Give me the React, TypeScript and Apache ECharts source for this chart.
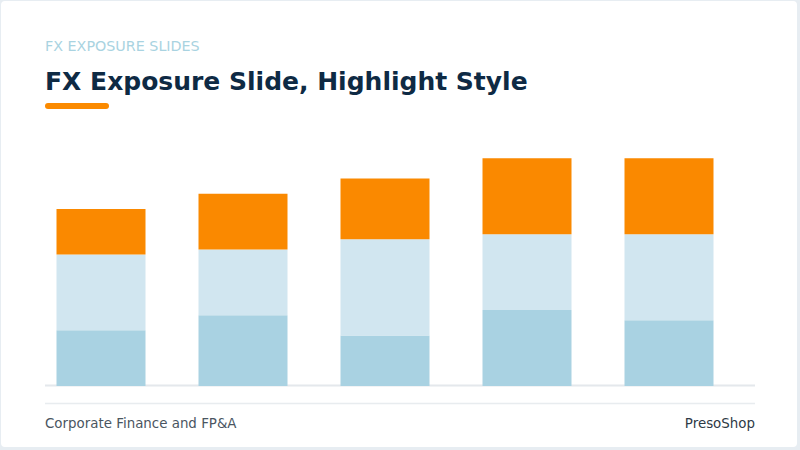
import { useEffect, useRef } from 'react';
import * as echarts from 'echarts';

const categories = ['A', 'B', 'C', 'D', 'E'];
const baseExposure = [22, 28, 20, 30, 26];
const midExposure = [30, 26, 38, 30, 34];
const highlightExposure = [18, 22, 24, 30, 30];

const kicker = 'FX EXPOSURE SLIDES';
const title = 'FX Exposure Slide, Highlight Style';
const footerLeft = 'Corporate Finance and FP&A';
const footerRight = 'PresoShop';

const FONT = '"DejaVu Sans", Inter, sans-serif';

export default function App() {
  const chartRef = useRef<HTMLDivElement>(null);

  useEffect(() => {
    if (!chartRef.current) return;
    const chart = echarts.init(chartRef.current, undefined, { renderer: 'svg' });

    const barSeries = (name: string, data: number[], color: string) => ({
      name,
      type: 'bar',
      stack: 'fx',
      data,
      barWidth: 89,
      itemStyle: { color },
      emphasis: { disabled: true },
    });

    chart.setOption({
      animation: false,
      backgroundColor: '#e7edf2',
      // plot area sits a little left of the baseline rule
      grid: { left: 30, right: 60, top: 133, bottom: 64 },
      xAxis: {
        type: 'category',
        data: categories,
        axisLine: { show: false },
        axisTick: { show: false },
        axisLabel: { show: false },
      },
      yAxis: {
        type: 'value',
        min: 0,
        max: 100,
        show: false,
        splitLine: { show: false },
      },
      graphic: [
        {
          type: 'rect',
          z: -10,
          shape: { x: 1, y: 1, width: 796, height: 446, r: 4 },
          style: { fill: '#ffffff' },
        },
        {
          type: 'line',
          z: -5,
          shape: { x1: 45, y1: 385.5, x2: 755, y2: 385.5 },
          style: { stroke: '#e4e8ec', lineWidth: 2 },
        },
        {
          type: 'text',
          x: 45,
          y: 39,
          style: { text: kicker, fill: '#a9d3e1', font: `400 14.3px ${FONT}` },
        },
        {
          type: 'text',
          x: 45,
          y: 69,
          style: { text: title, fill: '#0e2a44', font: `700 25px ${FONT}` },
        },
        {
          type: 'rect',
          shape: { x: 45, y: 103, width: 64, height: 6, r: 3 },
          style: { fill: '#fb8a00' },
        },
        {
          type: 'line',
          shape: { x1: 45, y1: 403.5, x2: 755, y2: 403.5 },
          style: { stroke: '#e8ecef', lineWidth: 1.5 },
        },
        {
          type: 'text',
          x: 45,
          y: 417,
          style: { text: footerLeft, fill: '#4a5561', font: `400 13.4px ${FONT}` },
        },
        {
          type: 'text',
          x: 755,
          y: 417,
          style: {
            text: footerRight,
            fill: '#2e3a46',
            font: `500 13.4px ${FONT}`,
            textAlign: 'right',
          },
        },
      ],
      series: [
        barSeries('Base', baseExposure, '#a9d2e2'),
        barSeries('Mid', midExposure, '#d1e6f0'),
        barSeries('Highlight', highlightExposure, '#fa8900'),
      ],
    });

    return () => chart.dispose();
  }, []);

  return (
    <div
      ref={chartRef}
      style={{ position: 'fixed', left: 0, top: 0, width: 800, height: 450 }}
    />
  );
}
